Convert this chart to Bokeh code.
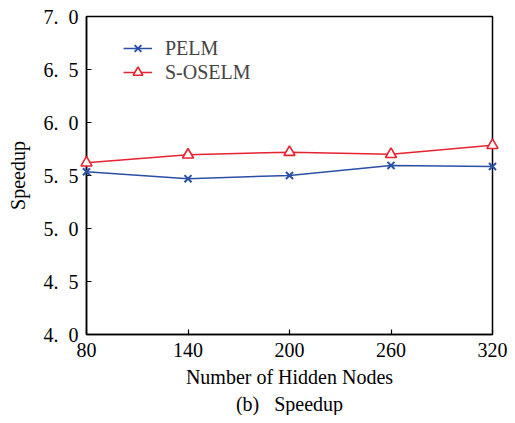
from bokeh.plotting import figure
from bokeh.models import FixedTicker, Title, Legend, LegendItem, Range1d
from bokeh.embed import file_html
from bokeh.resources import INLINE

hidden_nodes = [80, 140, 200, 260, 320]
pelm = [5.535, 5.47, 5.50, 5.595, 5.585]
soselm = [5.62, 5.695, 5.72, 5.70, 5.785]
x_ticks = [80, 140, 200, 260, 320]
y_ticks = [4.0, 4.5, 5.0, 5.5, 6.0, 6.5, 7.0]
y_tick_labels = ["4.\u20020", "4.\u20025", "5.\u20020", "5.\u20025", "6.\u20020", "6.\u20025", "7.\u20020"]

FONT = "Liberation Serif"
BLUE = "#2a50a6"
RED = "#e62330"

W, H = 507, 415
p = figure(width=W, height=H, output_backend="svg", toolbar_location=None,
           x_range=Range1d(80, 320), y_range=Range1d(4.0, 7.0),
           min_border_left=86, min_border_right=W - 492, min_border_top=16,
           min_border_bottom=20)
p.background_fill_color = "white"
p.border_fill_color = "white"
p.outline_line_color = "black"
p.outline_line_width = 1.5
p.grid.visible = False

p.xaxis.ticker = FixedTicker(ticks=x_ticks)
p.yaxis.ticker = FixedTicker(ticks=y_ticks)
p.yaxis.major_label_overrides = {t: l for t, l in zip(y_ticks, y_tick_labels)}
for ax in (p.xaxis, p.yaxis):
    ax.major_tick_in = 5
    ax.major_tick_out = 0
    ax.minor_tick_in = 0
    ax.minor_tick_out = 0
    ax.axis_line_color = "black"
    ax.axis_line_width = 1.5
    ax.major_tick_line_color = "black"
    ax.major_tick_line_width = 1.2
    ax.major_label_text_font = FONT
    ax.major_label_text_font_size = "20px"
    ax.major_label_text_color = "black"
    ax.axis_label_text_font = FONT
    ax.axis_label_text_font_size = "20px"
    ax.axis_label_text_font_style = "normal"
    ax.axis_label_text_color = "black"

p.xaxis.axis_label = "Number of Hidden Nodes"
p.yaxis.axis_label = "Speedup"
p.xaxis.major_label_standoff = 8
p.xaxis.axis_label_standoff = 6
p.yaxis.major_label_standoff = 8
p.yaxis.axis_label_standoff = 12

l1 = p.line(hidden_nodes, pelm, line_color=BLUE, line_width=1.5)
m1 = p.scatter(hidden_nodes, pelm, marker="x", size=10, line_color=BLUE, line_width=2,
               level="overlay")
l2 = p.line(hidden_nodes, soselm, line_color=RED, line_width=1.5)
m2 = p.scatter(hidden_nodes, soselm, marker="triangle", size=11, line_color=RED,
               fill_color="white", line_width=1.6, level="overlay")

legend = Legend(items=[LegendItem(label="PELM", renderers=[l1, m1]),
                       LegendItem(label="S-OSELM", renderers=[l2, m2])],
                location=(37, 250))
legend.background_fill_alpha = 0
legend.border_line_alpha = 0
legend.label_text_font = FONT
legend.label_text_font_size = "20px"
legend.glyph_width = 29
legend.glyph_height = 24
legend.label_height = 24
legend.spacing = 0
legend.margin = 0
legend.padding = 0
legend.label_standoff = 13
p.add_layout(legend)

cap = Title(text="(b)\u00a0\u00a0\u00a0Speedup", align="center", text_font=FONT,
            text_font_size="20px", text_font_style="normal", text_color="black",
            standoff=1, offset=0)
p.add_layout(cap, "below")

open("out.html", "w").write(file_html(p, INLINE))
